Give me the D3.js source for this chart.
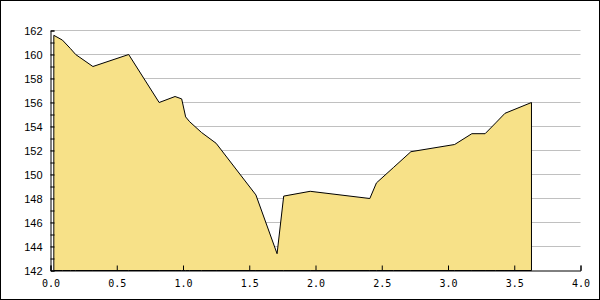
<!DOCTYPE html>
<html>
<head>
<meta charset="utf-8">
<script src="https://cdn.jsdelivr.net/npm/d3@7"></script>
<style>
  body { margin: 0; background: #fff; }
  svg { display: block; }
</style>
</head>
<body>
<script>
// data
var xs = [0.025, 0.09, 0.15, 0.19, 0.32, 0.59, 0.82, 0.94, 0.99, 1.02, 1.05, 1.14, 1.25,
          1.55, 1.71, 1.76, 1.96, 2.41, 2.46, 2.59, 2.72, 3.05, 3.18, 3.28, 3.36, 3.43, 3.63];
var ys = [161.6, 161.2, 160.5, 160.0, 159.0, 160.0, 156.0, 156.5, 156.3, 154.8, 154.4, 153.5, 152.6,
          148.3, 143.4, 148.2, 148.6, 148.0, 149.3, 150.6, 151.9, 152.5, 153.4, 153.4, 154.3, 155.1, 156.0];
var xTicks = [0, 0.5, 1, 1.5, 2, 2.5, 3, 3.5, 4];
var yTicks = [142, 144, 146, 148, 150, 152, 154, 156, 158, 160, 162];

var width = 600,
    height = 300;

var svg = d3.select("body").append("svg")
    .attr("width", width)
    .attr("height", height);

// outer frame
svg.append("rect")
    .attr("x", 0.5)
    .attr("y", 0.5)
    .attr("width", width - 1)
    .attr("height", height - 1)
    .attr("fill", "#fff")
    .attr("stroke", "#000");

var x = d3.scaleLinear().domain([0, 4]).range([50.5, 580.5]);
var y = d3.scaleLinear().domain([142, 162]).range([270.5, 30.5]);

// grid
svg.append("g")
    .selectAll("line")
    .data(yTicks.slice(1))
    .enter().append("line")
    .attr("x1", x(0))
    .attr("x2", x(4))
    .attr("y1", function(d) { return y(d); })
    .attr("y2", function(d) { return y(d); })
    .attr("stroke", "#c0c0c0");

var pts = xs.map(function(d, i) { return [d, ys[i]]; });

var area = d3.area()
    .x(function(d) { return x(d[0]); })
    .y0(y(142))
    .y1(function(d) { return y(d[1]); });

svg.append("path")
    .datum(pts)
    .attr("d", area)
    .attr("fill", "#f7e188")
    .attr("stroke", "#000")
    .attr("stroke-width", 1)
    .attr("stroke-linejoin", "miter");

// y axis, ticks pointing inward
var yAxis = d3.axisLeft(y)
    .tickValues(d3.range(142, 163, 1))
    .tickSize(-4)
    .tickPadding(8)
    .tickFormat(function(d) { return d % 2 == 0 ? d : ""; });

var gy = svg.append("g")
    .attr("transform", "translate(" + x(0) + ",0)")
    .call(yAxis);
gy.select(".domain").attr("stroke", "#000");
gy.selectAll(".tick line").attr("stroke", "#000");
gy.selectAll("text")
    .attr("fill", "#000")
    .style("font-family", "Liberation Sans, Arial, sans-serif")
    .style("font-size", "11px");

// x axis, ticks pointing up
var xAxis = d3.axisBottom(x)
    .tickValues(xTicks)
    .tickSize(-5)
    .tickPadding(9)
    .tickFormat(d3.format(".1f"));

var gx = svg.append("g")
    .attr("transform", "translate(0," + y(142) + ")")
    .call(xAxis);
gx.select(".domain").attr("stroke", "#000");
gx.selectAll(".tick line").attr("stroke", "#000");
gx.selectAll("text")
    .attr("fill", "#000")
    .style("font-family", "DejaVu Sans Mono, monospace")
    .style("font-size", "10px");
</script>
</body>
</html>
